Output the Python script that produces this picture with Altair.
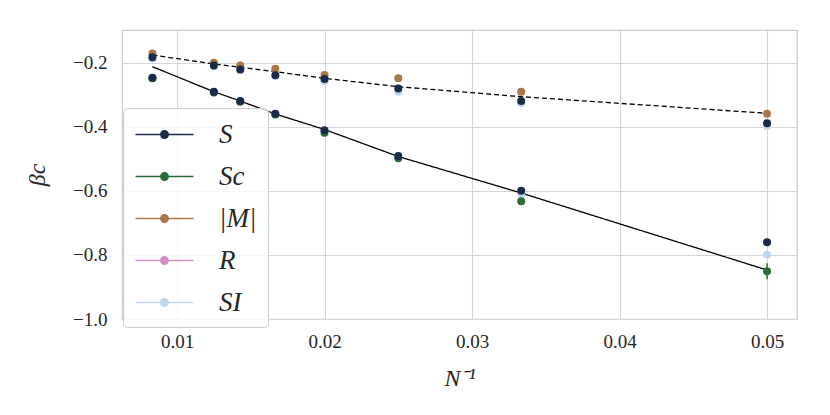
import altair as alt
import pandas as pd

# ---- data ----
N = [120, 80, 70, 60, 50, 40, 30, 20]

S_upper = [-0.182, -0.208, -0.220, -0.238, -0.250, -0.280, -0.319, -0.388]
M_abs = [-0.170, -0.199, -0.208, -0.218, -0.2375, -0.248, -0.290, -0.359]
SI_upper = [-0.186, -0.211, -0.223, -0.241, -0.256, -0.290, -0.326, -0.397]

S_lower = [-0.246, -0.290, -0.319, -0.359, -0.410, -0.491, -0.599, -0.760]
Sc_lower = [-0.248, -0.292, -0.321, -0.361, -0.418, -0.498, -0.632, -0.851]
SI_lower = [-0.247, -0.291, -0.320, -0.360, -0.412, -0.493, -0.609, -0.799]
Sc_err = [0.002, 0.002, 0.002, 0.003, 0.004, 0.005, 0.006, 0.025]

fit_solid = [-0.2116, -0.2897, -0.3188, -0.3594, -0.4078, -0.4922, -0.6063, -0.8469]
fit_dashed = [-0.175, -0.2031, -0.2134, -0.2272, -0.2478, -0.2741, -0.3053, -0.3572]

series_names = ["S", "Sc", "|M|", "R", "SI"]
series_colors = ["#1b2a48", "#2b6d39", "#a8784b", "#d18fc6", "#c1d7f0"]

x_ticks = [0.01, 0.02, 0.03, 0.04, 0.05]
y_ticks = [-1.0, -0.8, -0.6, -0.4, -0.2]

# ---- tables ----
rows = []
for name, z, vals in [("SI", 0, SI_upper), ("SI", 0, SI_lower), ("|M|", 1, M_abs),
                      ("Sc", 2, Sc_lower), ("S", 3, S_upper), ("S", 3, S_lower)]:
    for n, v in zip(N, vals):
        rows.append({"series": name, "N": n, "beta": v, "z": z})
pts = pd.DataFrame(rows)

err = pd.DataFrame({"N": N, "beta": Sc_lower, "err": Sc_err})

fits = pd.DataFrame(
    [{"kind": "solid", "N": n, "beta": v} for n, v in zip(N, fit_solid)]
    + [{"kind": "dashed", "N": n, "beta": v} for n, v in zip(N, fit_dashed)]
)

FONT = "Liberation Serif"

xs = alt.Scale(domain=[0.00627, 0.05203], nice=False, zero=False)
ys = alt.Scale(domain=[-1.0, -0.0969], nice=False, zero=False)

X = alt.X("x:Q", scale=xs, title="N⁻¹",
          axis=alt.Axis(values=x_ticks, format=".2f", labelPadding=13, titlePadding=15))
Y = alt.Y("beta:Q", scale=ys, title="βc",
          axis=alt.Axis(values=y_ticks,
                        labelExpr="replace(format(datum.value, '.1f'), '-', '\u2212\u2009')",
                        labelPadding=15, titlePadding=23))

lines = alt.Chart(fits).transform_calculate(x="1/datum.N").mark_line(
    color="black", strokeWidth=1.3
).encode(
    x=X, y=Y, detail="kind:N",
    strokeDash=alt.StrokeDash("kind:N", scale=alt.Scale(domain=["solid", "dashed"],
                                                        range=[[1, 0], [5, 3]]), legend=None),
)

bars = alt.Chart(err).transform_calculate(
    x="1/datum.N", lo="datum.beta - datum.err", hi="datum.beta + datum.err"
).mark_rule(color=series_colors[1], strokeWidth=1.5).encode(
    x=X, y=alt.Y("lo:Q", scale=ys), y2="hi:Q"
)

legend_symbol = ("M-2,-0.05L2,-0.05L2,0.05L-2,0.05Z "
                 "M-0.31,0A0.31,0.31 0 1,1 0.31,0A0.31,0.31 0 1,1 -0.31,0Z")

points = alt.Chart(pts).transform_calculate(x="1/datum.N").mark_circle(
    size=64, opacity=1
).encode(
    x=X, y=Y,
    color=alt.Color("series:N", scale=alt.Scale(domain=series_names, range=series_colors),
                    legend=alt.Legend(
                        title=None, orient="none", legendX=1, legendY=78,
                        symbolType=legend_symbol, symbolSize=841, symbolOffset=15,
                        labelOffset=39, labelFontSize=27, labelFontStyle="italic",
                        labelFont=FONT, labelColor="#262626", rowPadding=13,
                        padding=11, fillColor="rgba(255,255,255,0.8)",
                        strokeColor="#cccccc", cornerRadius=4, labelLimit=200)),
    order=alt.Order("z:Q"),
)

chart = alt.layer(lines, bars, points).properties(
    width=675, height=289,
    background="white",
    padding={"left": 17, "top": 22, "right": 5, "bottom": 5},
).configure_view(
    stroke="#cccccc", strokeWidth=1.2
).configure_axis(
    labelFont=FONT, titleFont=FONT, labelFontSize=19, titleFontSize=24,
    titleFontStyle="italic", titleFontWeight="normal",
    labelColor="#262626", titleColor="#262626",
    gridColor="#d6d6d6", gridWidth=1.1, domain=False, ticks=False,
)

chart.save("out.html", embed_options={"renderer": "svg", "actions": False})
